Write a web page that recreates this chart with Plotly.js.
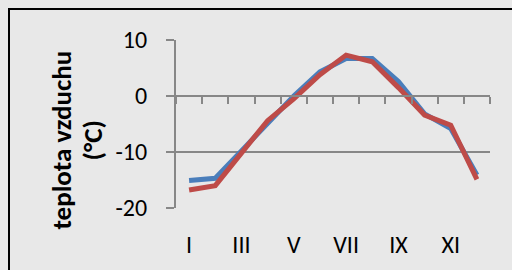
<!DOCTYPE html>
<html>
<head>
<meta charset="utf-8">
<script src="https://cdn.plot.ly/plotly-3.0.1.min.js"></script>
<style>
html,body{margin:0;padding:0;background:#e8e8e8;}
#chart{width:512px;height:270px;}
</style>
</head>
<body>
<div id="chart"></div>
<script>
// data
var months = [1,2,3,4,5,6,7,8,9,10,11,12];
var monthLabels = ["I","III","V","VII","IX","XI"];
var monthLabelPos = [1,3,5,7,9,11];
var seriesBlue = [-15.1, -14.7, -9.8, -5.0, 0.0, 4.3, 6.7, 6.7, 2.6, -3.2, -5.8, -14.1];
var seriesRed  = [-16.8, -16.0, -10.2, -4.4, -0.5, 3.8, 7.3, 6.1, 1.5, -3.4, -5.2, -14.9];
var boundaries = [0.5,1.5,2.5,3.5,4.5,5.5,6.5,7.5,8.5,9.5,10.5,11.5,12.5];
var yTicks = [-20,-10,0,10];
var yTickLabels = ["-20","-10","0","10"];
var titleLine1 = "teplota vzduchu";
var titleLine2 = "(°C)";

var font = "Carlito, Lato, sans-serif";
var grid = "#878787";

var traces = [
  {x: months, y: seriesBlue, type: "scatter", mode: "lines", xaxis: "x", yaxis: "y",
   line: {color: "#4A7EBB", width: 5}, hoverinfo: "none"},
  {x: months, y: seriesRed, type: "scatter", mode: "lines", xaxis: "x", yaxis: "y",
   line: {color: "#BE4B48", width: 5}, hoverinfo: "none"},
  // empty traces so the helper axes (zero-line ticks, y labels) are drawn
  {x: [], y: [], type: "scatter", mode: "lines", xaxis: "x2", yaxis: "y", hoverinfo: "none"},
  {x: [], y: [], type: "scatter", mode: "lines", xaxis: "x", yaxis: "y2", hoverinfo: "none"}
];

var layout = {
  width: 512, height: 270,
  margin: {l: 176, r: 22, t: 40, b: 62},
  paper_bgcolor: "#e8e8e8",
  plot_bgcolor: "rgba(0,0,0,0)",
  showlegend: false,
  font: {family: font, size: 24, color: "#000"},
  xaxis: {
    range: [0.5, 12.5], anchor: "y", side: "bottom",
    tickmode: "array", tickvals: monthLabelPos, ticktext: monthLabels,
    showgrid: false, zeroline: false, showline: false, ticks: "",
    ticklabelstandoff: 20,
    tickfont: {family: font, size: 24, color: "#000"}
  },
  xaxis2: {
    range: [0.5, 12.5], overlaying: "x", anchor: "free", position: 2/3,
    tickmode: "array", tickvals: boundaries,
    showticklabels: false, showgrid: false, zeroline: false,
    showline: true, linecolor: grid, linewidth: 2,
    ticks: "outside", ticklen: 7, tickwidth: 2, tickcolor: grid
  },
  yaxis: {
    range: [-20, 10], tickmode: "array", tickvals: yTicks,
    showticklabels: false,
    showgrid: true, gridcolor: grid, gridwidth: 2,
    zeroline: false, showline: true, linecolor: grid, linewidth: 2,
    ticks: "outside", ticklen: 8, tickwidth: 2, tickcolor: grid
  },
  yaxis2: {
    range: [-20, 10], overlaying: "y", anchor: "x", side: "left",
    tickmode: "array", tickvals: yTicks, ticktext: yTickLabels,
    showgrid: false, zeroline: false, showline: false,
    ticks: "outside", ticklen: 23, tickcolor: "rgba(0,0,0,0)",
    tickfont: {family: font, size: 24, color: "#000"}
  },
  annotations: [
    {text: "<b>" + titleLine1 + "</b>",
     xref: "paper", yref: "paper", x: (61 - 176) / 314, y: 0.402,
     xanchor: "center", yanchor: "middle", textangle: -90,
     showarrow: false, font: {family: font, size: 27, color: "#000"}},
    {text: "<b>" + titleLine2 + "</b>",
     xref: "paper", yref: "paper", x: (92 - 176) / 314, y: 0.402,
     xanchor: "center", yanchor: "middle", textangle: -90,
     showarrow: false, font: {family: font, size: 27, color: "#000"}}
  ],
  shapes: [{
    type: "rect", xref: "paper", yref: "paper",
    x0: (9 - 176) / 314, x1: 1.3, y0: -0.6, y1: (208 - 9) / 168,
    line: {color: "#000", width: 2}, fillcolor: "rgba(0,0,0,0)", layer: "below"
  }]
};

Plotly.newPlot("chart", traces, layout, {staticPlot: true, displayModeBar: false});
</script>
</body>
</html>
